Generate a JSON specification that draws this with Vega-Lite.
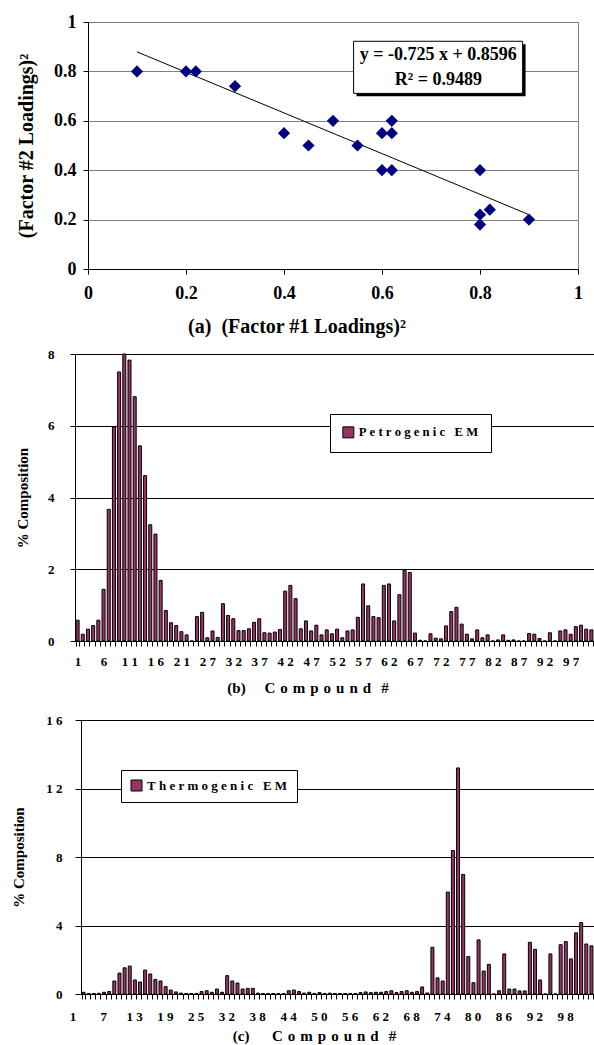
{
  "$schema": "https://vega.github.io/schema/vega-lite/v6.json",
  "background": "white",
  "padding": {"left": 0, "top": 12, "right": 0, "bottom": 0},
  "config": {
    "font": "Liberation Serif",
    "view": {"stroke": "#808080"},
    "axis": {"labelFont": "Liberation Serif", "titleFont": "Liberation Serif", "labelFontWeight": "bold", "titleFontWeight": "bold", "labelColor": "#000", "titleColor": "#000", "domainColor": "#000", "tickColor": "#000"},
    "legend": {"labelFont": "Liberation Serif", "labelFontWeight": "bold", "labelColor": "#000"}
  },
  "datasets": {
    "scatter": [
      {"x": 0.1, "y": 0.8}, {"x": 0.2, "y": 0.8}, {"x": 0.22, "y": 0.8}, {"x": 0.3, "y": 0.74},
      {"x": 0.4, "y": 0.55}, {"x": 0.45, "y": 0.5}, {"x": 0.5, "y": 0.6}, {"x": 0.55, "y": 0.5},
      {"x": 0.6, "y": 0.55}, {"x": 0.62, "y": 0.6}, {"x": 0.62, "y": 0.55}, {"x": 0.6, "y": 0.4},
      {"x": 0.62, "y": 0.4}, {"x": 0.8, "y": 0.4}, {"x": 0.8, "y": 0.22}, {"x": 0.8, "y": 0.18},
      {"x": 0.82, "y": 0.24}, {"x": 0.9, "y": 0.2}
    ],
    "fit": [{"x": 0.1, "y": 0.879}, {"x": 0.9, "y": 0.22}],
    "petro": [
      {"c":1,"v":0.58},{"c":2,"v":0.19},{"c":3,"v":0.33},{"c":4,"v":0.43},{"c":5,"v":0.58},{"c":6,"v":1.44},{"c":7,"v":3.67},{"c":8,"v":5.97},{"c":9,"v":7.5},{"c":10,"v":8.0},
      {"c":11,"v":7.83},{"c":12,"v":6.81},{"c":13,"v":5.44},{"c":14,"v":4.61},{"c":15,"v":3.24},{"c":16,"v":2.98},{"c":17,"v":1.69},{"c":18,"v":0.85},{"c":19,"v":0.51},{"c":20,"v":0.43},
      {"c":21,"v":0.26},{"c":22,"v":0.17},{"c":23,"v":0},{"c":24,"v":0.68},{"c":25,"v":0.8},{"c":27,"v":0.09},{"c":28,"v":0.28},{"c":29,"v":0.1},{"c":30,"v":1.04},{"c":31,"v":0.71},
      {"c":32,"v":0.62},{"c":33,"v":0.29},{"c":34,"v":0.29},{"c":35,"v":0.34},{"c":36,"v":0.52},{"c":37,"v":0.62},{"c":38,"v":0.23},{"c":39,"v":0.22},{"c":40,"v":0.25},{"c":41,"v":0.32},
      {"c":42,"v":1.39},{"c":43,"v":1.55},{"c":44,"v":1.18},{"c":45,"v":0.34},{"c":46,"v":0.56},{"c":47,"v":0.28},{"c":48,"v":0.44},{"c":49,"v":0.17},{"c":50,"v":0.31},{"c":51,"v":0.2},
      {"c":52,"v":0.33},{"c":53,"v":0.09},{"c":54,"v":0.28},{"c":55,"v":0.31},{"c":56,"v":0.66},{"c":57,"v":1.59},{"c":58,"v":0.98},{"c":59,"v":0.68},{"c":60,"v":0.65},{"c":61,"v":1.55},
      {"c":62,"v":1.59},{"c":63,"v":0.56},{"c":64,"v":1.29},{"c":65,"v":1.98},{"c":66,"v":1.91},{"c":67,"v":0.22},{"c":68,"v":0.02},{"c":69,"v":0},{"c":70,"v":0.2},{"c":71,"v":0.08},
      {"c":72,"v":0.06},{"c":73,"v":0.42},{"c":74,"v":0.82},{"c":75,"v":0.94},{"c":76,"v":0.47},{"c":77,"v":0.19},{"c":78,"v":0.06},{"c":79,"v":0.31},{"c":80,"v":0.09},{"c":81,"v":0.17},
      {"c":82,"v":0},{"c":83,"v":0.03},{"c":84,"v":0.17},{"c":85,"v":0.02},{"c":86,"v":0.03},{"c":87,"v":0},{"c":88,"v":0},{"c":89,"v":0.21},{"c":90,"v":0.19},{"c":91,"v":0.07},
      {"c":92,"v":0},{"c":93,"v":0.23},{"c":94,"v":0},{"c":95,"v":0.28},{"c":96,"v":0.31},{"c":97,"v":0.19},{"c":98,"v":0.4},{"c":99,"v":0.44},{"c":100,"v":0.33},{"c":101,"v":0.31}
    ],
    "thermo": [
      {"c":1,"v":0.1},{"c":2,"v":0.03},{"c":3,"v":0.03},{"c":4,"v":0.04},{"c":5,"v":0.1},{"c":6,"v":0.15},{"c":7,"v":0.76},{"c":8,"v":1.22},{"c":9,"v":1.53},{"c":10,"v":1.63},
      {"c":11,"v":0.82},{"c":12,"v":0.7},{"c":13,"v":1.4},{"c":14,"v":1.17},{"c":15,"v":0.85},{"c":16,"v":0.76},{"c":17,"v":0.43},{"c":18,"v":0.23},{"c":19,"v":0.12},{"c":20,"v":0.05},
      {"c":21,"v":0.03},{"c":22,"v":0.03},{"c":23,"v":0.03},{"c":24,"v":0.14},{"c":25,"v":0.19},{"c":27,"v":0.1},{"c":28,"v":0.29},{"c":29,"v":0.1},{"c":30,"v":1.07},{"c":31,"v":0.76},
      {"c":32,"v":0.64},{"c":33,"v":0.29},{"c":34,"v":0.33},{"c":35,"v":0.33},{"c":36,"v":0.05},{"c":37,"v":0.03},{"c":38,"v":0.03},{"c":39,"v":0.03},{"c":40,"v":0.03},{"c":41,"v":0.03},
      {"c":42,"v":0.19},{"c":43,"v":0.23},{"c":44,"v":0.14},{"c":45,"v":0.05},{"c":46,"v":0.1},{"c":47,"v":0.03},{"c":48,"v":0.08},{"c":49,"v":0.03},{"c":50,"v":0.05},{"c":51,"v":0.03},
      {"c":52,"v":0.03},{"c":53,"v":0.03},{"c":54,"v":0.03},{"c":55,"v":0.03},{"c":56,"v":0.08},{"c":57,"v":0.12},{"c":58,"v":0.08},{"c":59,"v":0.1},{"c":60,"v":0.1},{"c":61,"v":0.14},
      {"c":62,"v":0.19},{"c":63,"v":0.08},{"c":64,"v":0.14},{"c":65,"v":0.19},{"c":66,"v":0.1},{"c":67,"v":0.14},{"c":68,"v":0.41},{"c":69,"v":0.06},{"c":70,"v":2.73},{"c":71,"v":0.94},
      {"c":72,"v":0.76},{"c":73,"v":5.95},{"c":74,"v":8.38},{"c":75,"v":13.2},{"c":76,"v":6.98},{"c":77,"v":2.18},{"c":78,"v":0.66},{"c":79,"v":3.16},{"c":80,"v":1.34},{"c":81,"v":1.73},
      {"c":82,"v":0},{"c":83,"v":0.19},{"c":84,"v":2.34},{"c":85,"v":0.29},{"c":86,"v":0.29},{"c":87,"v":0.18},{"c":88,"v":0.18},{"c":89,"v":3.02},{"c":90,"v":2.61},{"c":91,"v":0.82},
      {"c":92,"v":0},{"c":93,"v":2.34},{"c":94,"v":0},{"c":95,"v":2.88},{"c":96,"v":3.06},{"c":97,"v":2.05},{"c":98,"v":3.57},{"c":99,"v":4.17},{"c":100,"v":2.92},{"c":101,"v":2.81}
    ]
  },
  "resolve": {"scale": {"color": "independent"}, "legend": {"color": "independent"}},
  "spacing": 10,
  "vconcat": [
    {
      "spacing": 0,
      "hconcat": [
        {"width": 16, "height": 1, "view": {"stroke": null}, "data": {"values": []}, "mark": "point"},
        {
          "width": 490,
          "height": 247,
          "layer": [
            {
              "data": {"name": "fit"},
              "mark": {"type": "line", "color": "#000", "strokeWidth": 1},
              "encoding": {
                "x": {"field": "x", "type": "quantitative", "scale": {"domain": [0, 1], "nice": false, "zero": false},
                  "axis": {"title": "(a)\u00a0\u00a0(Factor #1 Loadings)\u00b2", "values": [0, 0.2, 0.4, 0.6, 0.8, 1], "format": "~g", "labelFontSize": 18, "titleFontSize": 20, "tickSize": 5, "labelPadding": 10, "titlePadding": 14, "grid": false, "labelFlush": false, "labelOverlap": false, "titleX": 208.5}},
                "y": {"field": "y", "type": "quantitative", "scale": {"domain": [0, 1], "nice": false, "zero": false},
                  "axis": {"title": "(Factor #2 Loadings)\u00b2", "values": [0, 0.2, 0.4, 0.6, 0.8, 1], "format": "~g", "labelFontSize": 18, "titleFontSize": 20, "tickSize": 5, "labelPadding": 7, "titlePadding": 17, "grid": true, "gridColor": "#808080", "labelFlush": false, "labelOverlap": false}}
              }
            },
            {
              "data": {"name": "scatter"},
              "mark": {"type": "point", "shape": "diamond", "filled": true, "size": 150, "color": "#000080", "opacity": 1},
              "encoding": {
                "x": {"field": "x", "type": "quantitative"},
                "y": {"field": "y", "type": "quantitative"}
              }
            },
            {
              "data": {"values": [{}]},
              "mark": {"type": "rect", "color": "#000"},
              "encoding": {
                "x": {"datum": 0.548, "type": "quantitative"}, "x2": {"datum": 0.893},
                "y": {"datum": 0.699, "type": "quantitative"}, "y2": {"datum": 0.91}
              }
            },
            {
              "data": {"values": [{}]},
              "mark": {"type": "rect", "fill": "#fff", "stroke": "#000", "strokeWidth": 1},
              "encoding": {
                "x": {"datum": 0.542, "type": "quantitative"}, "x2": {"datum": 0.887},
                "y": {"datum": 0.711, "type": "quantitative"}, "y2": {"datum": 0.922}
              }
            },
            {
              "data": {"values": [{}]},
              "mark": {"type": "text", "font": "Liberation Serif", "fontWeight": "bold", "fontSize": 18, "color": "#000", "baseline": "middle", "align": "center"},
              "encoding": {
                "x": {"datum": 0.715, "type": "quantitative"},
                "y": {"datum": 0.865, "type": "quantitative"},
                "text": {"value": "y = -0.725 x + 0.8596"}
              }
            },
            {
              "data": {"values": [{}]},
              "mark": {"type": "text", "font": "Liberation Serif", "fontWeight": "bold", "fontSize": 18, "color": "#000", "baseline": "middle", "align": "center"},
              "encoding": {
                "x": {"datum": 0.715, "type": "quantitative"},
                "y": {"datum": 0.767, "type": "quantitative"},
                "text": {"value": "R\u00b2 = 0.9489"}
              }
            }
          ]
        }
      ]
    },
    {
      "spacing": 17,
      "resolve": {"scale": {"color": "independent"}, "legend": {"color": "independent"}},
      "vconcat": [
        {
          "spacing": 0,
          "hconcat": [
            {"width": 14.5, "height": 1, "view": {"stroke": null}, "data": {"values": []}, "mark": "point"},
            {
              "width": 519,
              "height": 287,
              "data": {"name": "petro"},
              "mark": {"type": "bar", "stroke": "#000", "strokeWidth": 1},
              "encoding": {
                "x": {"field": "c", "type": "ordinal", "scale": {"paddingInner": 0.42, "paddingOuter": 0.21},
                  "axis": {"title": "(b)\u00a0\u00a0\u00a0\u00a0\u00a0C\u2004o\u2004m\u2004p\u2004o\u2004u\u2004n\u2004d\u2004\u2004#", "titleFontSize": 15, "labelFontSize": 13, "labelAngle": 0, "tickBand": "extent", "tickSize": 5, "labelPadding": 9, "titlePadding": 12, "labelOverlap": false, "labelBound": false, "grid": false, "titleX": 232.5, "titleAlign": "center",
                    "labelExpr": "(datum.value <= 25 ? (datum.value - 1) % 5 == 0 : (datum.value - 2) % 5 == 0) ? join(split(datum.label, ''), '\u00a0') : ''"}},
                "y": {"field": "v", "type": "quantitative", "scale": {"domain": [0, 8], "nice": false},
                  "axis": {"title": "% Composition", "values": [0, 2, 4, 6, 8], "titleFontSize": 15, "labelFontSize": 13, "tickSize": 5, "labelPadding": 16, "titlePadding": 17, "grid": true, "gridColor": "#000", "labelOverlap": false}},
                "color": {"datum": "Petrogenic EM", "scale": {"range": ["#993366"]},
                  "legend": {"title": null, "orient": "none", "legendX": 330, "legendY": 60, "fillColor": "#fff", "strokeColor": "#000", "padding": 12, "symbolType": "square", "symbolSize": 121, "symbolStrokeColor": "#000", "symbolStrokeWidth": 1, "labelFontSize": 12.7, "labelOffset": 4, "labelLimit": 300,
                    "labelExpr": "join(split(datum.label, ''), '\u00a0')"}}
              }
            }
          ]
        },
        {
          "spacing": 0,
          "hconcat": [
            {"width": 9.5, "height": 1, "view": {"stroke": null}, "data": {"values": []}, "mark": "point"},
            {
              "width": 513,
              "height": 274,
              "data": {"name": "thermo"},
              "mark": {"type": "bar", "stroke": "#000", "strokeWidth": 1},
              "encoding": {
                "x": {"field": "c", "type": "ordinal", "scale": {"paddingInner": 0.42, "paddingOuter": 0.21},
                  "axis": {"title": "(c)\u00a0\u00a0\u00a0\u00a0\u00a0\u00a0C\u2004o\u2004m\u2004p\u2004o\u2004u\u2004n\u2004d\u2004\u2004#", "titleFontSize": 15, "labelFontSize": 13, "labelAngle": 0, "tickBand": "extent", "tickSize": 5, "labelPadding": 11.5, "titlePadding": 5, "labelOverlap": false, "labelBound": false, "grid": false, "titleX": 233, "titleAlign": "center", "labelOffset": -11,
                    "labelExpr": "(datum.value <= 25 ? (datum.value - 1) % 6 == 0 : (datum.value - 2) % 6 == 0) ? join(split(datum.label, ''), '\u00a0') : ''"}},
                "y": {"field": "v", "type": "quantitative", "scale": {"domain": [0, 16], "nice": false},
                  "axis": {"title": "% Composition", "values": [0, 4, 8, 12, 16], "titleFontSize": 15, "labelFontSize": 13, "tickSize": 6, "labelPadding": 13, "titlePadding": 19.75, "grid": true, "gridColor": "#000", "labelOverlap": false,
                    "labelExpr": "join(split(datum.label, ''), '\u00a0')"}},
                "color": {"datum": "Thermogenic EM", "scale": {"range": ["#993366"]},
                  "legend": {"title": null, "orient": "none", "legendX": 121, "legendY": 50, "fillColor": "#fff", "strokeColor": "#000", "padding": 9, "symbolType": "square", "symbolSize": 121, "symbolStrokeColor": "#000", "symbolStrokeWidth": 1, "labelFontSize": 13, "labelOffset": 4, "labelLimit": 300,
                    "labelExpr": "join(split(datum.label, ''), '\u00a0')"}}
              }
            }
          ]
        }
      ]
    }
  ]
}
